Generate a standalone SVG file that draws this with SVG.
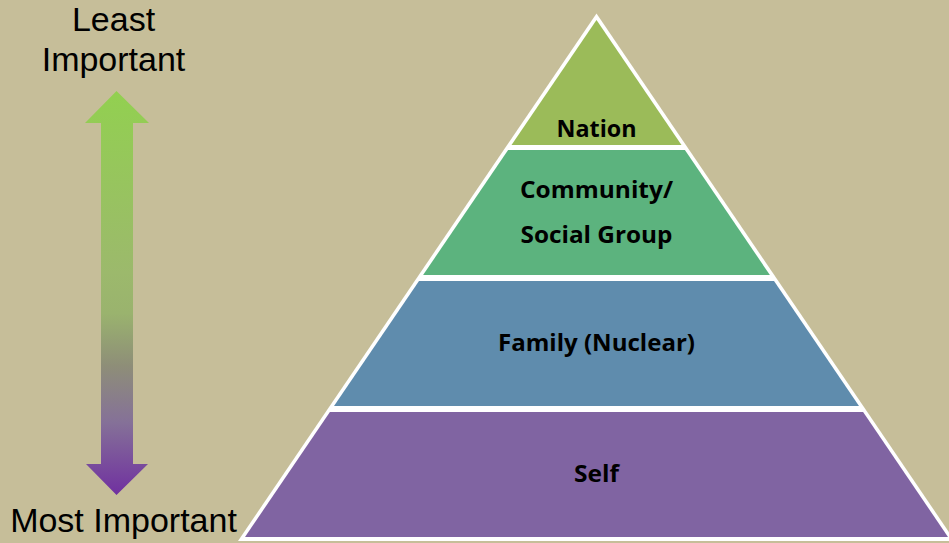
<svg xmlns="http://www.w3.org/2000/svg" width="949" height="543" viewBox="0 0 949 543">
<defs>
<linearGradient id="arrowGrad" x1="0" y1="0" x2="0" y2="1" gradientUnits="objectBoundingBox">
<stop offset="0" stop-color="#92D050"/>
<stop offset="0.45" stop-color="#9CB96C"/>
<stop offset="0.55" stop-color="#9AB36E"/>
<stop offset="0.68" stop-color="#8E8E78"/>
<stop offset="0.82" stop-color="#857198"/>
<stop offset="1" stop-color="#7030A0"/>
</linearGradient>
<style>
.side{font-family:"Liberation Sans",Arial,sans-serif;font-size:34px;fill:#000;text-anchor:middle}
.lbl{font-family:"Open Sans","Noto Sans",sans-serif;font-weight:bold;font-size:23px;fill:#000;text-anchor:middle}
</style>
</defs>
<rect width="949" height="543" fill="#C6BE99"/>
<g id="arrow">
<polygon points="116.5,91 149,123 133,123 133,464 148,464 116.5,495 86,464 101,464 101,123 85,123" fill="url(#arrowGrad)"/>
</g>
<g id="label-least">
<text class="side" x="113.5" y="31">Least</text>
<text class="side" x="113.5" y="71">Important</text>
</g>
<g id="label-most">
<text class="side" x="123.5" y="531.5">Most Important</text>
</g>
<g id="pyramid-outline">
<polygon points="596.5,13.5 955,541 238,541" fill="#FFFFFF"/>
</g>
<g id="nation">
<polygon points="596.5,20 681.5,145 511.5,145" fill="#9BBB59"/>
<text class="lbl" x="596.5" y="136.5" textLength="80" lengthAdjust="spacingAndGlyphs">Nation</text>
</g>
<g id="community">
<polygon points="508.1,150 684.9,150 769.9,275 423.1,275" fill="#5CB37E"/>
<text class="lbl" x="596.5" y="198" textLength="153" lengthAdjust="spacingAndGlyphs">Community/</text>
<text class="lbl" x="596.5" y="243" textLength="152" lengthAdjust="spacingAndGlyphs">Social Group</text>
</g>
<g id="family">
<polygon points="419,281 774,281 859,406 334,406" fill="#5F8CAD"/>
<text class="lbl" x="596.5" y="350.5" textLength="197" lengthAdjust="spacingAndGlyphs">Family (Nuclear)</text>
</g>
<g id="self">
<polygon points="329.9,412 863.1,412 948,537 245,537" fill="#8064A2"/>
<text class="lbl" x="596.5" y="482" textLength="45" lengthAdjust="spacingAndGlyphs">Self</text>
</g>
<g id="connectors"/>
</svg>
